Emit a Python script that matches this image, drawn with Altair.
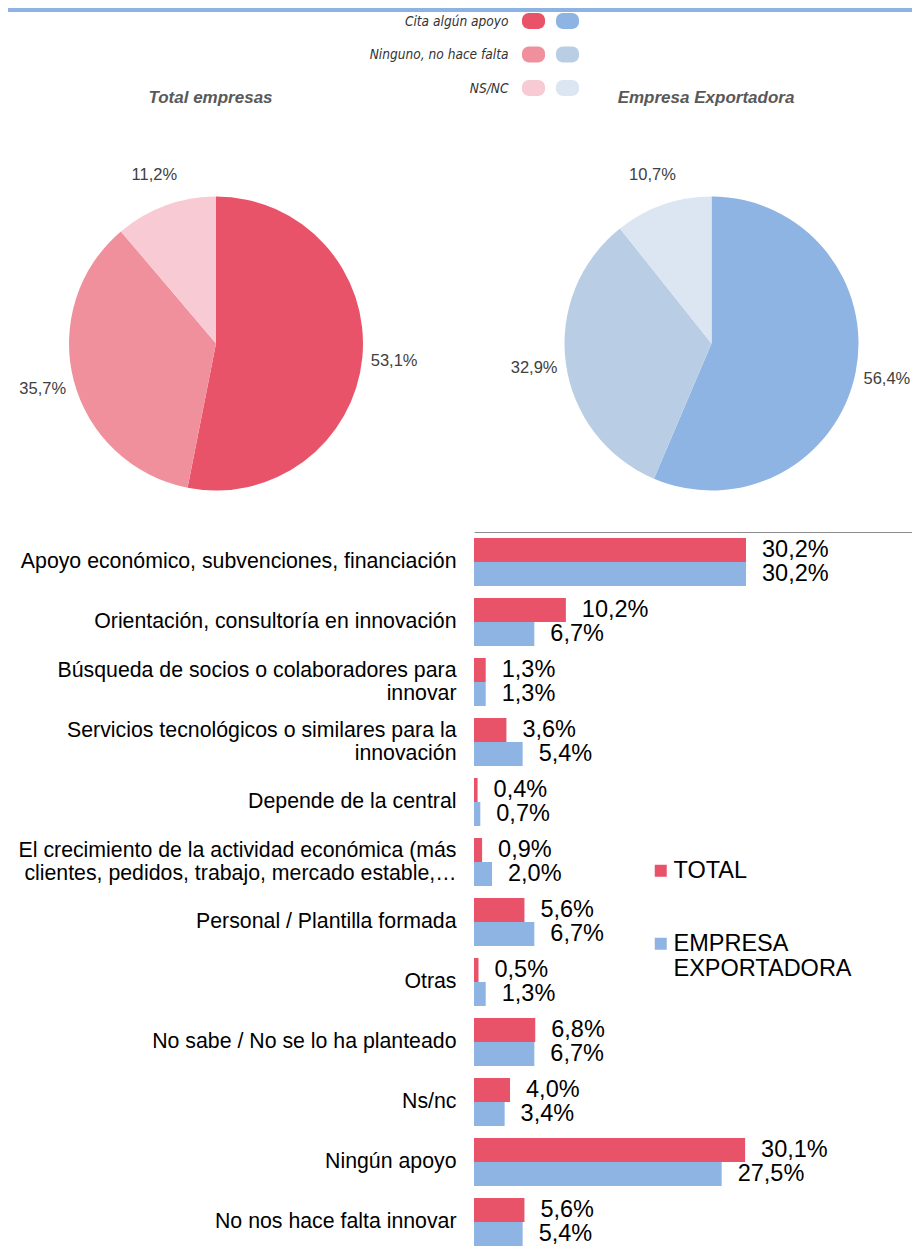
import altair as alt
import pandas as pd

# ---------------- data ----------------
pie_titles = ["Total empresas", "Empresa Exportadora"]
pie_categories = ["Cita algún apoyo", "Ninguno, no hace falta", "NS/NC"]
pie_total = [53.1, 35.7, 11.2]
pie_export = [56.4, 32.9, 10.7]

bar_categories = [
    "Apoyo económico, subvenciones, financiación",
    "Orientación, consultoría en innovación",
    "Búsqueda de socios o colaboradores para\ninnovar",
    "Servicios tecnológicos o similares para la\ninnovación",
    "Depende de la central",
    "El crecimiento de la actividad económica (más\nclientes, pedidos, trabajo, mercado estable,…",
    "Personal / Plantilla formada",
    "Otras",
    "No sabe / No se lo ha planteado",
    "Ns/nc",
    "Ningún apoyo",
    "No nos hace falta innovar",
]
bar_series = ["TOTAL", "EMPRESA EXPORTADORA"]
bar_total = [30.2, 10.2, 1.3, 3.6, 0.4, 0.9, 5.6, 0.5, 6.8, 4.0, 30.1, 5.6]
bar_export = [30.2, 6.7, 1.3, 5.4, 0.7, 2.0, 6.7, 1.3, 6.7, 3.4, 27.5, 5.4]

# ---------------- styles ----------------
RED_SHADES = ["#E9536A", "#F0909C", "#F8CAD3"]
BLUE_SHADES = ["#8EB4E3", "#B9CDE5", "#DCE6F2"]
STRIPE = "#8DB3E2"
FONT = "Liberation Sans, Arial, Helvetica, sans-serif"
NARROW = "Liberation Sans Narrow, Arial Narrow, DejaVu Sans Condensed, Roboto, sans-serif"
PILL = ("M-0.4,-0.696H0.4A0.6,0.6 0 0 1 1,-0.096V0.096A0.6,0.6 0 0 1 0.4,0.696"
        "H-0.4A0.6,0.6 0 0 1 -1,0.096V-0.096A0.6,0.6 0 0 1 -0.4,-0.696Z")
LABEL_EXPR = "replace(format(datum.valor, '.1f'), '.', ',') + '%'"
W = 904

# ---------------- tables ----------------
pie_rows = []
for panel, values in zip(pie_titles, [pie_total, pie_export]):
    for i, (cat, val) in enumerate(zip(pie_categories, values)):
        pie_rows.append({"panel": panel, "categoria": cat, "valor": val,
                         "orden": i, "clave": panel + "|" + cat})
pie_df = pd.DataFrame(pie_rows)
color_keys = [p + "|" + c for p in pie_titles for c in pie_categories]
pie_color = alt.Scale(domain=color_keys, range=RED_SHADES + BLUE_SHADES)

bar_rows = []
for cat, t, e in zip(bar_categories, bar_total, bar_export):
    bar_rows.append({"categoria": cat, "serie": bar_series[0], "valor": t})
    bar_rows.append({"categoria": cat, "serie": bar_series[1], "valor": e})
bar_df = pd.DataFrame(bar_rows)

# ---------------- top stripe ----------------
stripe = alt.Chart(pd.DataFrame({"inicio": [0.0], "fin": [1.0]})).mark_rect(
    color=STRIPE
).encode(
    x=alt.X("inicio:Q", scale=alt.Scale(domain=[0, 1], nice=False, zero=False), axis=None),
    x2="fin:Q",
).properties(width=W, height=4)

# ---------------- pie legend (cells) ----------------
header = alt.Chart(pie_df).mark_point(
    shape=PILL, size=529, filled=True, opacity=1, strokeWidth=0
).encode(
    x=alt.X("panel:N", sort=pie_titles,
            scale=alt.Scale(type="point", range=[525.5, 559.5], padding=0), axis=None),
    y=alt.Y("categoria:N", sort=pie_categories,
            scale=alt.Scale(type="point", range=[9, 76], padding=0),
            axis=alt.Axis(title=None, offset=-525.5, domain=False, ticks=False, grid=False,
                          labelPadding=25.5, labelFont=NARROW, labelFontSize=13.6,
                          labelFontStyle="italic", labelColor="#333333")),
    color=alt.Color("clave:N", scale=pie_color, legend=None),
).properties(width=W, height=143)

# ---------------- pies ----------------
pie_x = alt.X("panel:N", sort=pie_titles,
              scale=alt.Scale(type="point", range=[208, 703.5], padding=0),
              axis=alt.Axis(orient="top", title=None, domain=False, ticks=False, grid=False,
                            labelPadding=49, labelAngle=0, labelOffset=-6,
                            labelFont=FONT, labelFontSize=17, labelFontWeight="bold",
                            labelFontStyle="italic", labelColor="#595959"))
pie_layers = []
for panel in pie_titles:
    base = alt.Chart(pie_df).transform_filter(alt.datum.panel == panel).transform_calculate(
        etiqueta=LABEL_EXPR
    ).encode(
        x=pie_x,
        theta=alt.Theta("valor:Q", stack=True),
        order=alt.Order("orden:Q"),
        detail="clave:N",
    )
    arcs = base.mark_arc(outerRadius=147).encode(
        color=alt.Color("clave:N", scale=pie_color, legend=None)
    )
    texts = base.mark_text(radius=179, font=FONT, fontSize=16.5, color="#404040").encode(
        text="etiqueta:N"
    )
    pie_layers += [arcs, texts]
pies = alt.layer(*pie_layers).properties(width=W, height=377)

# ---------------- bars ----------------
bar_base = alt.Chart(bar_df).encode(
    y=alt.Y("categoria:N", sort=bar_categories,
            scale=alt.Scale(paddingInner=0.2, paddingOuter=0.1),
            axis=alt.Axis(title=None, offset=-466, domain=False, ticks=False, grid=False,
                          labelPadding=18, labelLimit=480, labelFont=FONT, labelFontSize=21.3,
                          labelColor="black", labelLineHeight=23,
                          labelOffset=alt.condition("indexof(datum.label, '\\n') >= 0",
                                                    alt.value(-11.5), alt.value(0)),
                          labelExpr="split(datum.label, '\\n')")),
    yOffset=alt.YOffset("serie:N", sort=bar_series,
                        scale=alt.Scale(paddingInner=0, paddingOuter=0)),
    x=alt.X("valor:Q", scale=alt.Scale(domain=[0, 48.63], range=[466, W], nice=False),
            axis=alt.Axis(orient="top", title=None, labels=False, ticks=False, grid=False,
                          domainColor="#8C8C8C")),
)
bars = bar_base.mark_bar().encode(
    color=alt.Color(
        "serie:N", sort=bar_series,
        scale=alt.Scale(domain=bar_series, range=[RED_SHADES[0], BLUE_SHADES[0]]),
        legend=alt.Legend(
            title=None, orient="none", legendX=641, legendY=327, direction="vertical",
            symbolType="square", symbolSize=144, symbolStrokeWidth=0, symbolOpacity=1,
            labelFont=FONT, labelFontSize=23.5, labelColor="black", labelOffset=1,
            labelLimit=400, rowPadding=48, padding=0,
            labelExpr="datum.label == 'EMPRESA EXPORTADORA' ? ['EMPRESA', 'EXPORTADORA'] : datum.label",
        ),
    )
)
values = bar_base.transform_calculate(etiqueta=LABEL_EXPR).mark_text(
    align="left", baseline="middle", dx=16, font=FONT, fontSize=23.5, color="black"
).encode(text="etiqueta:N")
bar_chart = alt.layer(bars, values).properties(width=W, height=720)

# ---------------- layout ----------------
chart = alt.vconcat(
    stripe, header, pies, bar_chart, spacing=0, bounds="flush"
).resolve_scale(
    color="independent"
).properties(
    padding=0, background="white", autosize=alt.AutoSizeParams(type="pad")
).configure_view(strokeWidth=0)

chart.save("out.html", embed_options={"renderer": "svg", "actions": False})
